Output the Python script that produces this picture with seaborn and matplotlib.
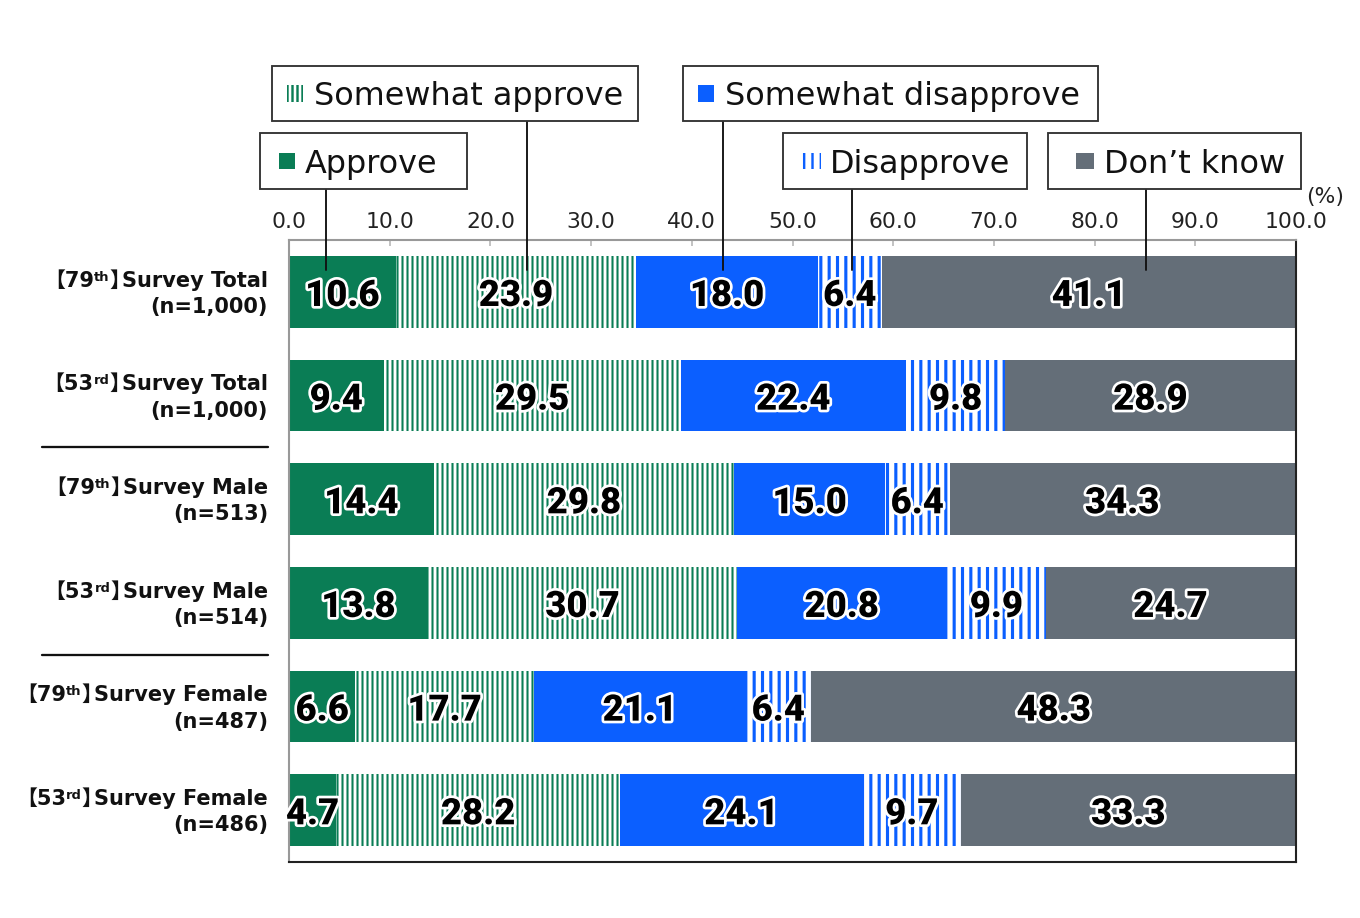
import numpy as np
import pandas as pd
import matplotlib
matplotlib.use("Agg")
import matplotlib.pyplot as plt
import matplotlib.patheffects as pe
from matplotlib.patches import Rectangle
from matplotlib.lines import Line2D
from matplotlib.offsetbox import TextArea, HPacker, VPacker, AnnotationBbox
from matplotlib.ticker import StrMethodFormatter
import seaborn as sns

# ---- data -------------------------------------------------------------
survey_no = ["79", "53", "79", "53", "79", "53"]
survey_sfx = ["th", "rd", "th", "rd", "th", "rd"]
group = ["Total", "Total", "Male", "Male", "Female", "Female"]
n_resp = ["1,000", "1,000", "513", "514", "487", "486"]

categories = ["Approve", "Somewhat approve", "Somewhat disapprove", "Disapprove", "Don\u2019t know"]
approve = [10.6, 9.4, 14.4, 13.8, 6.6, 4.7]
somewhat_approve = [23.9, 29.5, 29.8, 30.7, 17.7, 28.2]
somewhat_disapprove = [18.0, 22.4, 15.0, 20.8, 21.1, 24.1]
disapprove = [6.4, 9.8, 6.4, 9.9, 6.4, 9.7]
dont_know = [41.1, 28.9, 34.3, 24.7, 48.3, 33.3]

x_ticks = [0, 10, 20, 30, 40, 50, 60, 70, 80, 90, 100]

# ---- style ------------------------------------------------------------
GREEN = "#0a7d55"
BLUE = "#0b5fff"
GRAY = "#646e78"
# (face, edge/hatch colour, hatch)
styles = [
    (GREEN, GREEN, None),
    ("white", GREEN, "|||||"),
    (BLUE, BLUE, None),
    ("white", BLUE, "|||"),
    (GRAY, GRAY, None),
]

W, H, DPI = 1360, 918, 150

sns.set_style("white")
plt.rcParams["font.family"] = ["DejaVu Sans", "Noto Sans CJK JP"]
plt.rcParams["hatch.linewidth"] = 1.15


def fx(px):
    return px / W


def fy(py):
    return 1 - py / H


fig = plt.figure(figsize=(W / DPI, H / DPI), dpi=DPI)
ax = fig.add_axes([fx(289), fy(862), fx(1296) - fx(289), fy(240) - fy(862)])

rows = [f"r{i}" for i in range(len(group))]
vals = np.array([approve, somewhat_approve, somewhat_disapprove, disapprove, dont_know])
cum = vals.cumsum(axis=0)

# cumulative bars drawn from the widest down, each one covering the last
for k in range(len(categories) - 1, -1, -1):
    face, edge, hatch = styles[k]
    before = len(ax.patches)
    sns.barplot(x=cum[k], y=rows, orient="h", color=face, saturation=1,
                width=0.69, linewidth=0, edgecolor=edge, hatch=hatch, ax=ax)
    for p in ax.patches[before:]:
        p.set_edgecolor(edge)
        p.set_linewidth(0)
        if hatch and hasattr(p, "set_hatch_linewidth"):
            p.set_hatch_linewidth(1.0 if k == 1 else 1.5)

# value labels
for k in range(len(categories)):
    for i in range(len(rows)):
        v = vals[k, i]
        ax.text(cum[k, i] - v / 2, i + 0.04, f"{v:.1f}", ha="center", va="center",
                fontsize=17.5, family="Roboto", fontweight="black", color="black",
                zorder=10,
                path_effects=[pe.withStroke(linewidth=2.6, foreground="white")])

ax.set_xlim(0, 100)
ax.set_ylim(5.5, -0.5)
ax.xaxis.tick_top()
ax.set_xticks(x_ticks)
ax.xaxis.set_major_formatter(StrMethodFormatter("{x:.1f}"))
ax.tick_params(axis="x", direction="in", length=3, width=0.8, color="#b8b8b8",
               pad=4, labelsize=10.5, labelcolor="#222222")
ax.set_yticks([])
ax.set_xlabel("")
ax.set_ylabel("")
for side in ["left", "top"]:
    ax.spines[side].set_color("#999999")
    ax.spines[side].set_linewidth(1.0)
for side in ["right", "bottom"]:
    ax.spines[side].set_color("#222222")
    ax.spines[side].set_linewidth(1.0)

fig.text(fx(1325), fy(197), "(%)", ha="center", va="center", fontsize=10.5, color="#222222")

# row labels
bold = dict(fontsize=10, fontweight="bold", color="#111111",
            family=["DejaVu Sans", "Noto Sans CJK JP"])
small = dict(fontsize=6.3, fontweight="bold", color="#111111")
for i in range(len(rows)):
    head = HPacker(children=[TextArea("\u3010" + survey_no[i], textprops=bold),
                             TextArea(survey_sfx[i], textprops=small)],
                   align="top", pad=0, sep=0)
    tail = HPacker(children=[TextArea("\u3011", textprops=bold),
                             TextArea("Survey " + group[i], textprops=bold)],
                   align="top", pad=0, sep=-4)
    line1 = HPacker(children=[head, tail], align="top", pad=0, sep=0)
    line2 = TextArea(f"(n={n_resp[i]})", textprops=bold)
    block = VPacker(children=[line1, line2], align="right", pad=0, sep=3)
    ab = AnnotationBbox(block, (fx(268), i + 0.02), xycoords=("figure fraction", "data"),
                        box_alignment=(1, 0.5), frameon=False, pad=0,
                        annotation_clip=False)
    ax.add_artist(ab)

# group separators
for yb in [1.5, 3.5]:
    y_px = 240 + (yb + 0.5) * (862 - 240) / 6
    fig.add_artist(Line2D([fx(42), fx(268)], [fy(y_px), fy(y_px)],
                          transform=fig.transFigure, color="#111111", lw=1.1))

# legend callout boxes: (left, top, right, bottom, marker_x0, marker_w, text_x, leader_x)
boxes = [
    (260, 133, 467, 189, 279, 16, 305, 326),
    (272, 66, 638, 121, 287, 16, 314, 527),
    (683, 66, 1098, 121, 698, 16, 725, 723),
    (783, 133, 1027, 189, 801, 20, 830, 852),
    (1048, 133, 1301, 189, 1076, 18, 1104, 1146),
]
for k, (l, t, r, b, mx, mw, tx, lx) in enumerate(boxes):
    face, edge, hatch = styles[k]
    fig.add_artist(Line2D([fx(lx), fx(lx)], [fy(b), fy(270)], transform=fig.transFigure,
                          color="#111111", lw=0.9, zorder=5))
    fig.add_artist(Rectangle((fx(l), fy(b)), fx(r) - fx(l), fy(t) - fy(b),
                             transform=fig.transFigure, facecolor="white",
                             edgecolor="#333333", lw=0.9, zorder=6))
    cy = (t + b) / 2
    fig.add_artist(Rectangle((fx(mx), fy(cy + 8)), fx(mx + mw) - fx(mx), fy(cy - 8) - fy(cy + 8),
                             transform=fig.transFigure, facecolor=face, edgecolor=edge,
                             lw=0, hatch=hatch, zorder=7))
    fig.text(fx(tx), fy(cy), categories[k], ha="left", va="center_baseline",
             fontsize=15.3, color="#111111", zorder=8)

fig.savefig("out.png", dpi=DPI, facecolor="white")
